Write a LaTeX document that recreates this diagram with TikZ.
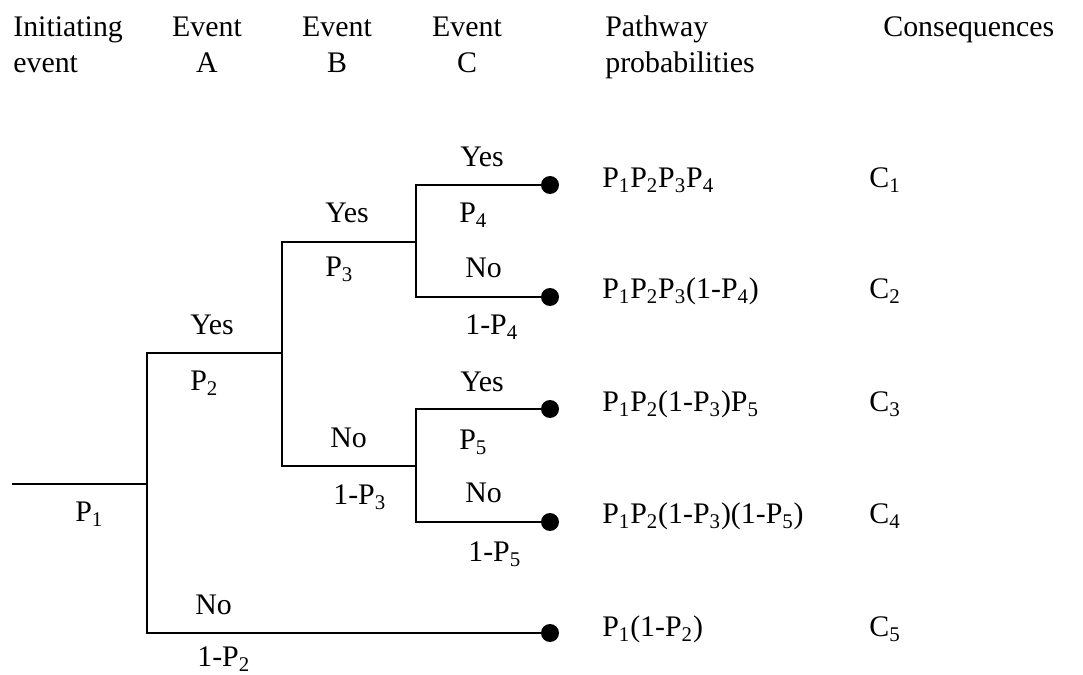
\documentclass[tikz,border=0pt]{standalone}
\usepackage{fontspec}
\setmainfont{Liberation Serif}
\newcommand{\Pn}[1]{P\textsubscript{#1}}
\newcommand{\Cn}[1]{C\textsubscript{#1}}
\tikzset{
  branch/.style={line width=1.1pt},
  endpt/.style={circle, fill, inner sep=0pt, minimum size=0.36cm},
  lab/.style={anchor=base west, inner sep=0pt},
  head/.style={anchor=base, inner sep=0pt, align=center},
}
\begin{document}
\begin{tikzpicture}[x=0.02cm, y=-0.02cm, font=\fontsize{17}{20.5}\selectfont]
  \useasboundingbox (0,0) rectangle (1083,675);
  % column heads (base = last line)
  \node[head, align=left, anchor=base west] (hinit) at (13,73) {Initiating\\event};
  \node[head] (hA) at (207,73) {Event\\A};
  \node[head] (hB) at (337,73) {Event\\B};
  \node[head] (hC) at (467,73) {Event\\C};
  \node[head, align=left, anchor=base west] (hpath) at (605,73) {Pathway\\probabilities};
  \node[head, anchor=base west] (hcons) at (883,37) {Consequences};
  % branch points
  \coordinate (s) at (12,484);
  \coordinate (a) at (147,484);
  \coordinate (aY) at (147,353);
  \coordinate (aN) at (147,633);
  \coordinate (b) at (282,353);
  \coordinate (bY) at (282,242);
  \coordinate (bN) at (282,466);
  \coordinate (c1) at (416,242);
  \coordinate (cY1) at (416,185);
  \coordinate (cN1) at (416,297);
  \coordinate (c2) at (416,466);
  \coordinate (cY2) at (416,409);
  \coordinate (cN2) at (416,522);
  \foreach \i/\y in {1/185,2/297,3/409,4/522,5/633}
    \node[endpt] (e\i) at (550,\y) {};
  % tree
  \draw[branch] (s) -- (a);
  \draw[branch] (b) -- (aY) -- (aN) -- (e5);
  \draw[branch] (c1) -- (bY) -- (bN) -- (c2);
  \draw[branch] (e1) -- (cY1) -- (cN1) -- (e2);
  \draw[branch] (e3) -- (cY2) -- (cN2) -- (e4);
  % branch labels
  \node[lab] (lP1) at (75,522) {\Pn{1}};
  \node[lab] (lyA) at (190,335) {Yes};
  \node[lab] (lP2) at (190,391) {\Pn{2}};
  \node[lab] (lnA) at (195,615) {No};
  \node[lab] (lqA) at (197,667) {1-\Pn{2}};
  \node[lab] (lyB) at (325,223) {Yes};
  \node[lab] (lP3) at (325,277) {\Pn{3}};
  \node[lab] (lnB) at (330,448) {No};
  \node[lab] (lqB) at (333,505) {1-\Pn{3}};
  \node[lab] (lyC1) at (460,167) {Yes};
  \node[lab] (lP4) at (459,223) {\Pn{4}};
  \node[lab] (lnC1) at (465,278) {No};
  \node[lab] (lqC1) at (465,335) {1-\Pn{4}};
  \node[lab] (lyC2) at (460,392) {Yes};
  \node[lab] (lP5) at (459,450) {\Pn{5}};
  \node[lab] (lnC2) at (465,503) {No};
  \node[lab] (lqC2) at (468,562) {1-\Pn{5}};
  % pathways and consequences
  \node[lab] (r1) at (602,188) {\Pn{1}\Pn{2}\Pn{3}\Pn{4}};
  \node[lab] (r2) at (602,299) {\Pn{1}\Pn{2}\Pn{3}(1-\Pn{4})};
  \node[lab] (r3) at (602,412) {\Pn{1}\Pn{2}(1-\Pn{3})\Pn{5}};
  \node[lab] (r4) at (602,524) {\Pn{1}\Pn{2}(1-\Pn{3})(1-\Pn{5})};
  \node[lab] (r5) at (602,637) {\Pn{1}(1-\Pn{2})};
  \foreach \i/\y in {1/188,2/299,3/412,4/524,5/637}
    \node[lab] (k\i) at (869,\y) {\Cn{\i}};
\end{tikzpicture}
\end{document}
